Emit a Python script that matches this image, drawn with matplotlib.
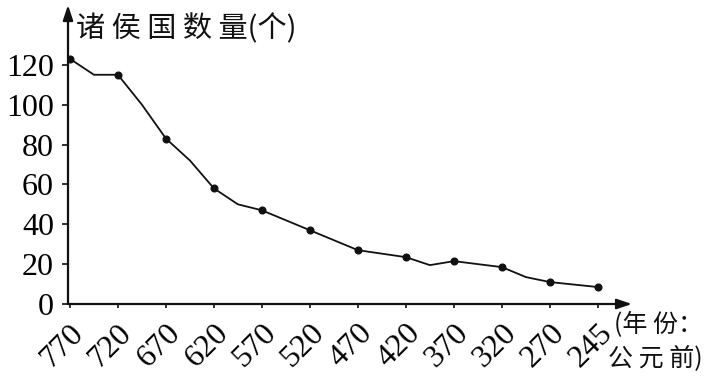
import numpy as np
import matplotlib
matplotlib.use("Agg")
from matplotlib import pyplot as plt
from matplotlib.transforms import ScaledTranslation

# tick years (evenly spaced on the axis, 245 included as last slot)
tick_years = [770, 720, 670, 620, 570, 520, 470, 420, 370, 320, 270, 245]
# line vertices (years, BC) and number of states
line_years = [770, 745, 720, 695, 670, 645, 620, 595, 570, 520, 470, 420, 395, 370, 320, 295, 270, 245]
line_counts = [123, 115, 115, 100, 83, 72, 58, 50, 47, 37, 27, 23.5, 19.5, 21.5, 18.5, 13.5, 11, 8.5]
y_ticks = [0, 20, 40, 60, 80, 100, 120]

CJK = ["Noto Sans CJK SC", "DejaVu Sans"]
SERIF = "Liberation Serif"


def year_to_pos(years):
    slots = np.arange(len(tick_years))
    return np.interp(years, tick_years[::-1], slots[::-1])


fig = plt.figure(figsize=(7.14, 3.79), dpi=100)
ax = fig.add_axes([68 / 714, 75 / 379, 564 / 714, 299 / 379])

ax.set_xlim(-0.04, 11.71)
ax.set_ylim(0, 150)

x_line = year_to_pos(line_years)
ax.plot(x_line, line_counts, color="#111111", lw=1.3, zorder=3)

marker_counts = [line_counts[line_years.index(y)] for y in tick_years]
ax.plot(year_to_pos(tick_years), marker_counts, ls="none", marker="o",
        ms=4.8, color="#111111", zorder=4)

for side in ["top", "right", "left", "bottom"]:
    ax.spines[side].set_visible(False)

# axis arrows
arrow = dict(arrowstyle="-|>,head_length=0.9,head_width=0.3", lw=1.6, color="#111111",
             shrinkA=0, shrinkB=0)
ax.annotate("", xy=(1, 0), xytext=(0, 0), xycoords="axes fraction", arrowprops=arrow)
ax.annotate("", xy=(0, 1), xytext=(0, 0), xycoords="axes fraction", arrowprops=arrow)

ax.set_yticks(y_ticks)
ax.set_yticklabels([str(v) for v in y_ticks], fontfamily=SERIF, fontsize=23)
ax.tick_params(axis="y", direction="out", length=4, width=1.2, pad=6, color="#111111")

ax.set_xticks(year_to_pos(tick_years))
ax.set_xticklabels([str(y) for y in tick_years], fontfamily=SERIF, fontsize=23,
                   rotation=45, ha="right", va="center", rotation_mode="anchor")
ax.tick_params(axis="x", direction="out", length=3, width=1.2, pad=0, color="#111111")
offset = ScaledTranslation(10 / 100, -21 / 100, fig.dpi_scale_trans)
for lbl in ax.get_xticklabels():
    lbl.set_transform(lbl.get_transform() + offset)

fig.text(76 / 714, 1 - 29 / 379, "诸 侯 国 数 量(个)", family=CJK, fontsize=21,
         ha="left", va="center", color="#111111")
fig.text(614 / 714, 1 - 325 / 379, "(年 份：", family=CJK, fontsize=18,
         ha="left", va="center", color="#111111")
fig.text(608 / 714, 1 - 359 / 379, "公 元 前)", family=CJK, fontsize=18,
         ha="left", va="center", color="#111111")

fig.savefig("out.png", dpi=100)
